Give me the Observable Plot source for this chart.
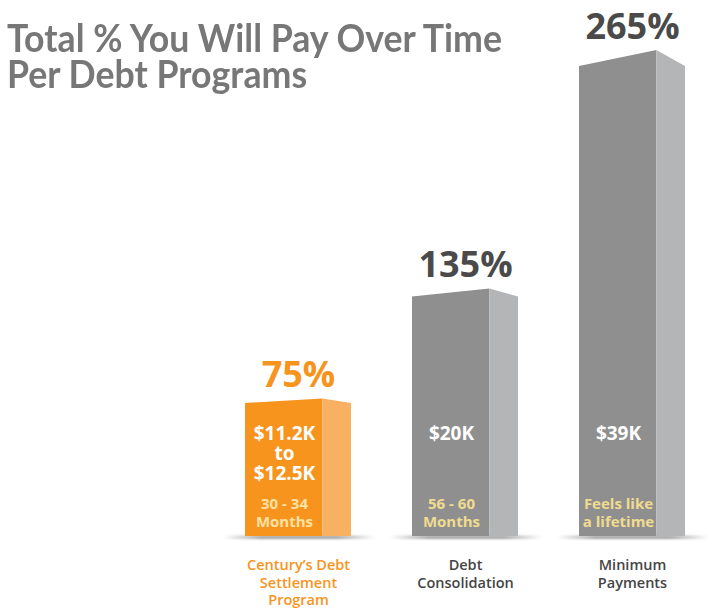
<!DOCTYPE html>
<html>
<head>
<meta charset="utf-8">
<script src="https://cdn.jsdelivr.net/npm/d3@7"></script>
<script src="https://cdn.jsdelivr.net/npm/@observablehq/plot@0.6"></script>
<style>
  html, body { margin: 0; padding: 0; background: #ffffff; }
  #wrap { position: relative; width: 720px; height: 616px; overflow: hidden; }
  #title {
    position: absolute; left: 7px; top: 19px; z-index: 2;
    font-family: Lato, "Open Sans", sans-serif; font-weight: 700; font-size: 39px;
    line-height: 36px; color: #777777; white-space: nowrap;
  }
  #title .t { transform-origin: 0 0; display: inline-block; }
  #chart { position: absolute; left: 0; top: 0; }
</style>
</head>
<body>
<div id="wrap">
  <div id="title"><span class="t" id="t1">Total % You Will Pay Over Time</span><br><span class="t" id="t2">Per Debt Programs</span></div>
  <div id="chart"></div>
</div>
<script>
// ---- data ----
const programs = ["Century’s Debt Settlement Program", "Debt Consolidation", "Minimum Payments"];
const programLabels = ["Century’s Debt\nSettlement\nProgram", "Debt\nConsolidation", "Minimum\nPayments"];
const percents = [75, 135, 265];
const amounts = ["$11.2K\nto\n$12.5K", "$20K", "$39K"];
const durations = ["30 - 34\nMonths", "56 - 60\nMonths", "Feels like\na lifetime"];

// ---- styles ----
const ORANGE = "#f7941e", ORANGE_SIDE = "#f8b063";
const GRAY = "#8f8f8f", GRAY_SIDE = "#b4b5b7";
const DARK = "#4a4a4a", LABEL_DARK = "#454545";
const PALE_ON_ORANGE = "#fde2a2", PALE_ON_GRAY = "#efdc8f";

const table = programs.map((p, i) => ({
  program: p, label: programLabels[i], pct: percents[i],
  amount: amounts[i], duration: durations[i], featured: i === 0
}));

const FRONT = 0.73; // share of the band used by the front face

function boxes(index, scales, values) {
  const g = d3.create("svg:g");
  const defs = g.append("defs");
  defs.append("filter").attr("id", "blur").attr("x", "-20%").attr("y", "-200%").attr("width", "140%").attr("height", "500%")
    .append("feGaussianBlur").attr("stdDeviation", 1.2);
  const grad = defs.append("linearGradient").attr("id", "shade");
  grad.append("stop").attr("offset", "0%").attr("stop-color", "#9a9a9a").attr("stop-opacity", 0);
  grad.append("stop").attr("offset", "25%").attr("stop-color", "#9a9a9a").attr("stop-opacity", 0.9);
  grad.append("stop").attr("offset", "75%").attr("stop-color", "#9a9a9a").attr("stop-opacity", 0.9);
  grad.append("stop").attr("offset", "100%").attr("stop-color", "#9a9a9a").attr("stop-opacity", 0);
  const bw = scales.x.bandwidth();
  const fw = bw * FRONT;
  for (const i of index) {
    const x0 = values.x[i];
    const top = Math.min(values.y1[i], values.y2[i]);
    const bottom = Math.max(values.y1[i], values.y2[i]);
    const s = 0.033 * (bottom - top);
    const d = table[i];
    g.append("rect").attr("x", x0 - 22).attr("y", bottom - 0.5).attr("width", bw + 46).attr("height", 3.5)
      .attr("fill", "url(#shade)").attr("filter", "url(#blur)");
    g.append("polygon")
      .attr("points", [[x0, bottom], [x0, top + s], [x0 + fw, top], [x0 + fw, bottom]].join(" "))
      .attr("fill", d.featured ? ORANGE : GRAY);
    g.append("polygon")
      .attr("points", [[x0 + fw, bottom], [x0 + fw, top], [x0 + bw, top + s], [x0 + bw, bottom]].join(" "))
      .attr("fill", d.featured ? ORANGE_SIDE : GRAY_SIDE);
  }
  return g.node();
}

const frontShift = -14; // centre text on the front face

const chart = Plot.plot({
  width: 720,
  height: 616,
  marginLeft: 244,
  marginRight: 33,
  marginTop: 50,
  marginBottom: 80,
  x: {domain: programs, axis: null, paddingInner: 0.363, paddingOuter: 0, align: 0.5},
  y: {domain: [0, 265], axis: null},
  style: {fontFamily: "'Open Sans', sans-serif", background: "transparent", overflow: "visible"},
  marks: [
    Plot.barY(table, {x: "program", y: "pct", render: boxes}),
    Plot.text(table, {
      x: "program", y: "pct", text: d => d.pct + "%", dy: -12, lineAnchor: "bottom",
      fontSize: 36, fontWeight: 700, fill: d => d.featured ? ORANGE : DARK
    }),
    Plot.text(table, {
      x: "program", y: () => 0, text: "amount", dx: frontShift, dy: -111, lineAnchor: "top",
      lineHeight: 1.05, fontSize: 19, fontWeight: 700, fill: "#ffffff"
    }),
    Plot.text(table, {
      x: "program", y: () => 0, text: "duration", dx: frontShift, dy: -10, lineAnchor: "bottom",
      lineHeight: 1.2, fontSize: 15, fontWeight: 700, fill: d => d.featured ? PALE_ON_ORANGE : PALE_ON_GRAY
    }),
    Plot.text(table, {
      x: "program", y: () => 0, text: "label", dy: 21, lineAnchor: "top",
      lineHeight: 1.22, fontSize: 14.5, fontWeight: 600, fill: d => d.featured ? ORANGE : LABEL_DARK
    })
  ]
});
document.getElementById("chart").appendChild(chart);

// fit the title to the reference width
const t1 = document.getElementById("t1"), t2 = document.getElementById("t2");
const w = t1.getBoundingClientRect().width;
const k = 495 / w;
t1.style.transform = `scaleX(${k})`;
t2.style.transform = `scaleX(${k})`;
</script>
</body>
</html>
